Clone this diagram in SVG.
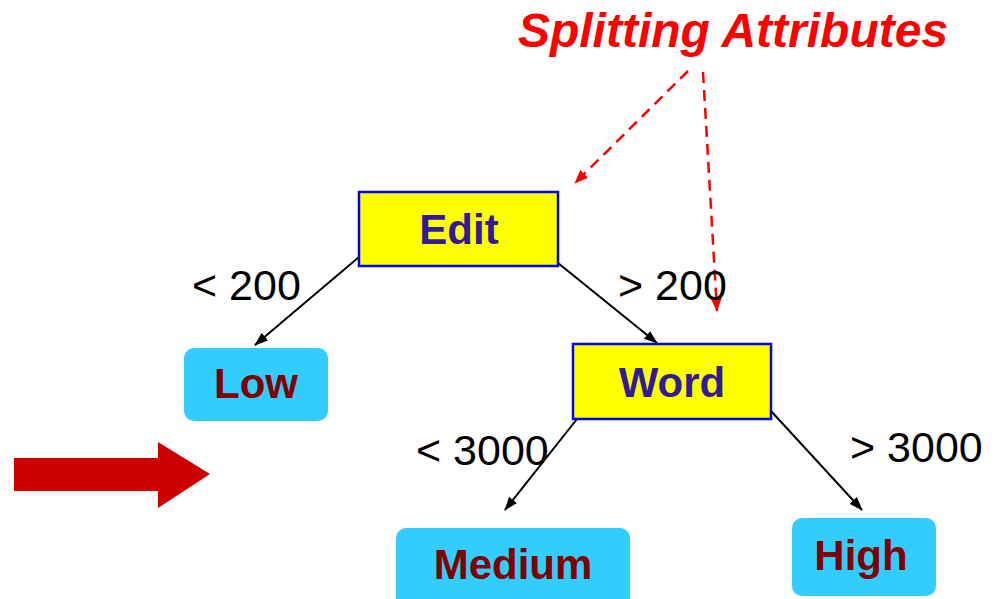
<svg xmlns="http://www.w3.org/2000/svg" width="997" height="599" viewBox="0 0 997 599">
<style>
.attr{fill:#ffff00;stroke:#0000ff;stroke-width:2.5}
.leaf{fill:#33ccff}
.an{font-family:"Liberation Sans",Arial,sans-serif;font-weight:bold;font-size:42px;fill:#331a99;text-anchor:middle}
.ln{font-family:"Liberation Sans",Arial,sans-serif;font-weight:bold;font-size:42px;fill:#800000;text-anchor:middle}
.lbl{font-family:"Liberation Sans",Arial,sans-serif;font-size:43px;fill:#000}
.edge{stroke:#000;stroke-width:2;fill:none;marker-end:url(#ah)}
.dash{stroke:#ff0000;stroke-width:2.5;fill:none;stroke-dasharray:11,7;marker-end:url(#rh)}
</style>
<defs>
<marker id="ah" markerWidth="14" markerHeight="10" refX="13" refY="5" orient="auto" markerUnits="userSpaceOnUse" viewBox="0 0 14 10"><path d="M0,0 L14,5 L0,10 z" fill="#000"/></marker>
<marker id="rh" markerWidth="14" markerHeight="11" refX="13" refY="5.5" orient="auto" markerUnits="userSpaceOnUse" viewBox="0 0 14 11"><path d="M0,0 L14,5.5 L0,11 z" fill="#ff0000"/></marker>
</defs>
<rect width="997" height="599" fill="#fff"/>
<text x="733" y="47" font-family="'Liberation Sans',Arial,sans-serif" font-weight="bold" font-style="italic" font-size="48" fill="#ff0000" text-anchor="middle">Splitting Attributes</text>
<polygon points="14,458 158,458 158,442 210,474 158,508 158,491 14,491" fill="#cc0000"/>
<g id="connectors">
<line class="edge" x1="359" y1="257" x2="255" y2="345"/>
<line class="edge" x1="558" y1="263" x2="657" y2="343"/>
<line class="edge" x1="577" y1="419" x2="505" y2="510"/>
<line class="edge" x1="771" y1="411" x2="862" y2="510"/>
<line class="dash" x1="688" y1="71" x2="575" y2="183"/>
<line class="dash" x1="703" y1="72" x2="717" y2="311"/>
<text class="lbl" x="192" y="300">&lt; 200</text>
<text class="lbl" x="618" y="300">&gt; 200</text>
<text class="lbl" x="416" y="465">&lt; 3000</text>
<text class="lbl" x="850" y="462">&gt; 3000</text>
</g>
<g id="edit"><rect class="attr" x="359" y="192" width="199" height="74"/><text class="an" x="459" y="244">Edit</text></g>
<g id="word"><rect class="attr" x="573" y="344" width="198" height="75"/><text class="an" x="672" y="397">Word</text></g>
<g id="low"><rect class="leaf" x="184" y="348" width="144" height="73" rx="10"/><text class="ln" x="256" y="398">Low</text></g>
<g id="medium"><rect class="leaf" x="396" y="528" width="234" height="80" rx="10"/><text class="ln" x="513" y="579">Medium</text></g>
<g id="high"><rect class="leaf" x="792" y="518" width="144" height="78" rx="10"/><text class="ln" x="861" y="570">High</text></g>
</svg>
